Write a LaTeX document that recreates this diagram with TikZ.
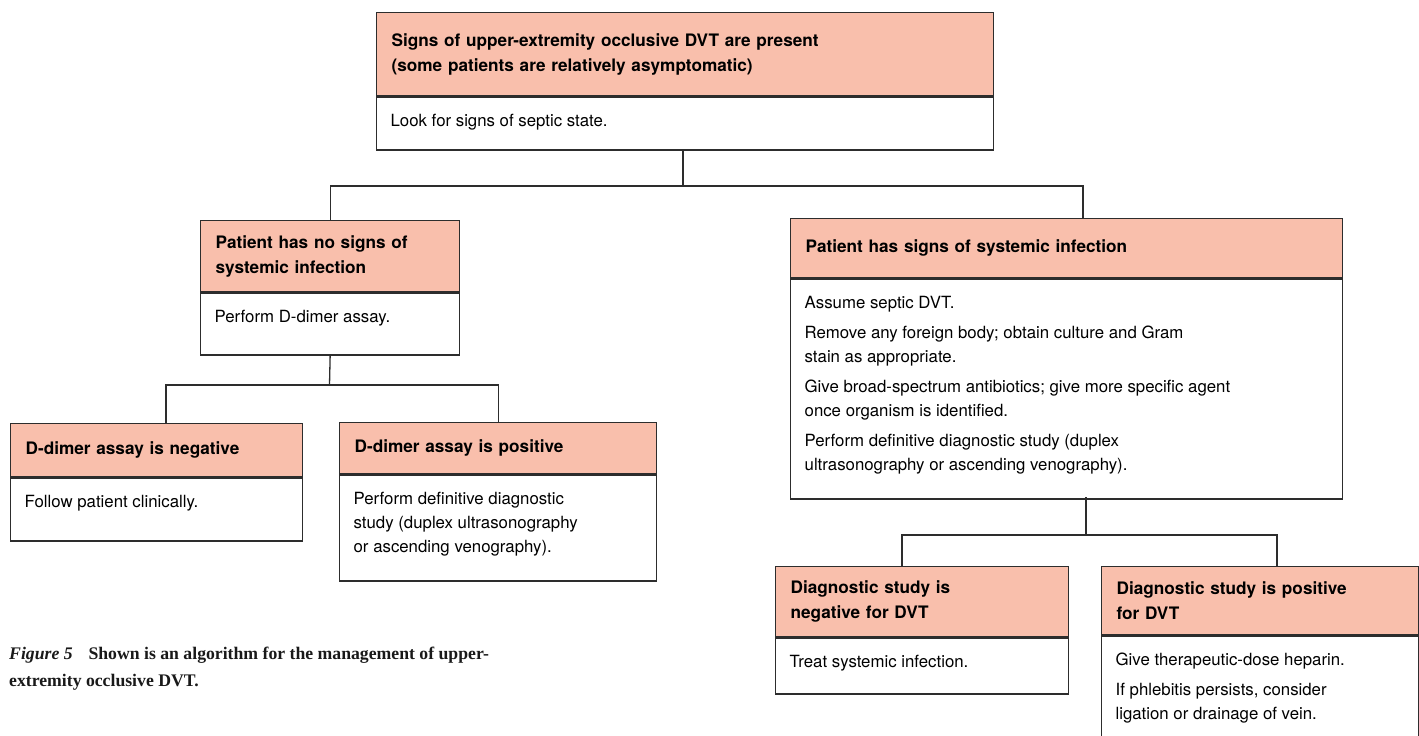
\documentclass[tikz,border=0pt]{standalone}
\usepackage{fontspec}
\setmainfont{Liberation Serif}
\setsansfont{TeX Gyre Heros}

\definecolor{salmone}{RGB}{249,191,172}
\definecolor{bordo}{RGB}{45,45,45}

% testo del corpo: altezza fissa, allineato in alto
\newcommand{\corpotesto}[3]{\parbox[t][#1][t]{#2}{\raggedright\vspace*{11pt}#3}}

\begin{document}
\begin{tikzpicture}[
			x=1pt, y=-1pt,
			testata/.style={draw=bordo, fill=salmone, line width=1.3pt,
				anchor=north west, align=left, inner xsep=15pt, inner ysep=0pt,
				font=\sffamily\bfseries\fontsize{17.2}{25}\selectfont},
			corpo/.style={draw=bordo, fill=white, line width=1.3pt,
				anchor=north west, inner xsep=14pt, inner ysep=6pt,
				font=\sffamily\fontsize{16.8}{24}\selectfont},
			linea/.style={draw=bordo, line width=1.3pt},
			]
			\useasboundingbox (0,0) rectangle (1419,736);
			
			%% riquadro iniziale
			\node[testata, minimum width=617, minimum height=83, text width=587]
				(t1) at (376,12)
				{Signs of upper-extremity occlusive DVT are present\\
				(some patients are relatively asymptomatic)};
			\node[corpo] (c1) at (t1.south west)
				{\corpotesto{41pt}{589pt}{Look for signs of septic state.}};
			
			%% ramo sinistro: nessuna infezione
			\node[testata, minimum width=259, minimum height=71, text width=229]
				(t2) at (200,220)
				{Patient has no signs of\\ systemic infection};
			\node[corpo] (c2) at (t2.south west)
				{\corpotesto{50pt}{231pt}{Perform D-dimer assay.}};
			
			%% ramo destro: infezione sistemica
			\node[testata, minimum width=552, minimum height=59, text width=522]
				(t3) at (790,218)
				{Patient has signs of systemic infection};
			\node[corpo] (c3) at (t3.south west)
				{\corpotesto{208pt}{524pt}{Assume septic DVT.\\[6pt]
				Remove any foreign body; obtain culture and Gram\\
				stain as appropriate.\\[6pt]
				Give broad-spectrum antibiotics; give more specific agent\\
				once organism is identified.\\[6pt]
				Perform definitive diagnostic study (duplex\\
				ultrasonography or ascending venography).}};
			
			%% D-dimero
			\node[testata, minimum width=292, minimum height=53, text width=262]
				(t4) at (10,423)
				{D-dimer assay is negative};
			\node[corpo] (c4) at (t4.south west)
				{\corpotesto{51pt}{264pt}{Follow patient clinically.}};
			
			\node[testata, minimum width=317, minimum height=51, text width=287]
				(t5) at (339,422)
				{D-dimer assay is positive};
			\node[corpo] (c5) at (t5.south west)
				{\corpotesto{94pt}{289pt}{Perform definitive diagnostic\\
				study (duplex ultrasonography\\
				or ascending venography).}};
			
			%% studio diagnostico
			\node[testata, minimum width=293, minimum height=70, text width=263]
				(t6) at (775,566)
				{Diagnostic study is\\ negative for DVT};
			\node[corpo] (c6) at (t6.south west)
				{\corpotesto{44pt}{265pt}{Treat systemic infection.}};
			
			\node[testata, minimum width=317, minimum height=68, text width=287]
				(t7) at (1101,566)
				{Diagnostic study is positive\\ for DVT};
			\node[corpo] (c7) at (t7.south west)
				{\corpotesto{130pt}{289pt}{Give therapeutic-dose heparin.\\[6pt]
				If phlebitis persists, consider\\
				ligation or drainage of vein.}};
			
			% punti di diramazione
			\coordinate (r1) at (683,186);
			\coordinate (a3) at (1083,218);
			\coordinate (r2) at (329.5,385);
			\coordinate (a4) at (166,423);
			\coordinate (p3) at (1086,497);
			\coordinate (r3) at (1086,535);
			\coordinate (a6) at (902,566);
			\coordinate (a7) at (1277,566);
			
			% collegamenti
			\draw[linea] (r1 |- c1.south) -- (r1);
			\draw[linea] (t2.north) |- (r1) -| (a3);
			\draw[linea] (c2.south) -- (r2);
			\draw[linea] (a4) |- (r2) -| (t5.north);
			\draw[linea] (p3) -- (r3);
			\draw[linea] (a6) |- (r3) -| (a7);
			
			% didascalia
			\node[anchor=north west, align=left, inner sep=0pt, text=black!90,
				font=\bfseries\fontsize{17.7}{27}\selectfont] (cap) at (9,647)
				{\textit{Figure 5}\hspace{0.9em}Shown is an algorithm for the management of upper-\\
				extremity occlusive DVT.};
			
		\end{tikzpicture}
\end{document}
